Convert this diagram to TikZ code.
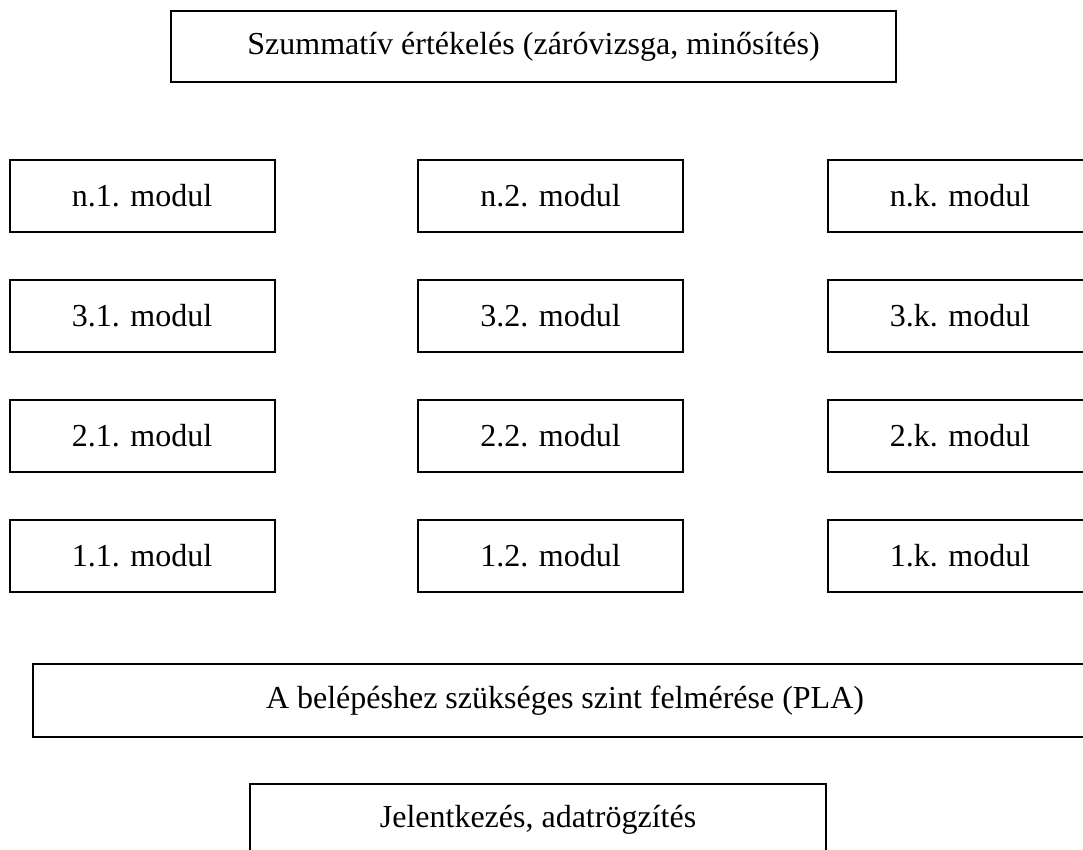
\documentclass[tikz,border=0pt]{standalone}
\usepackage{fontspec}
\setmainfont{Liberation Serif}
\begin{document}
\begin{tikzpicture}[x=0.5pt,y=-0.5pt,
  box/.style={draw, line width=1pt, rectangle, inner sep=0pt, font=\fontsize{16}{19}\selectfont},
  modbox/.style={box, minimum width=132.5pt, minimum height=36pt}]
\useasboundingbox (0,0) rectangle (1083,850);
\clip (0,0) rectangle (1083,850);
\node[box, minimum width=362.5pt, minimum height=35.5pt] (top) at (533.5,46.5) {Szummatív értékelés (záróvizsga, minősítés)};
\node[modbox] (n1) at (142,196) {n.1. modul};
\node[modbox] (n2) at (550.5,196) {n.2. modul};
\node[modbox] (nk) at (960,196) {n.k. modul};
\node[modbox] (m31) at (142,316) {3.1. modul};
\node[modbox] (m32) at (550.5,316) {3.2. modul};
\node[modbox] (m3k) at (960,316) {3.k. modul};
\node[modbox] (m21) at (142,436) {2.1. modul};
\node[modbox] (m22) at (550.5,436) {2.2. modul};
\node[modbox] (m2k) at (960,436) {2.k. modul};
\node[modbox] (m11) at (142,556) {1.1. modul};
\node[modbox] (m12) at (550.5,556) {1.2. modul};
\node[modbox] (m1k) at (960,556) {1.k. modul};
\node[box, minimum width=532pt, minimum height=36.5pt] (pla) at (565,700.5) {A belépéshez szükséges szint felmérése (PLA)};
\node[box, minimum width=288pt, minimum height=36pt] (reg) at (538,820) {Jelentkezés, adatrögzítés};
\end{tikzpicture}
\end{document}
